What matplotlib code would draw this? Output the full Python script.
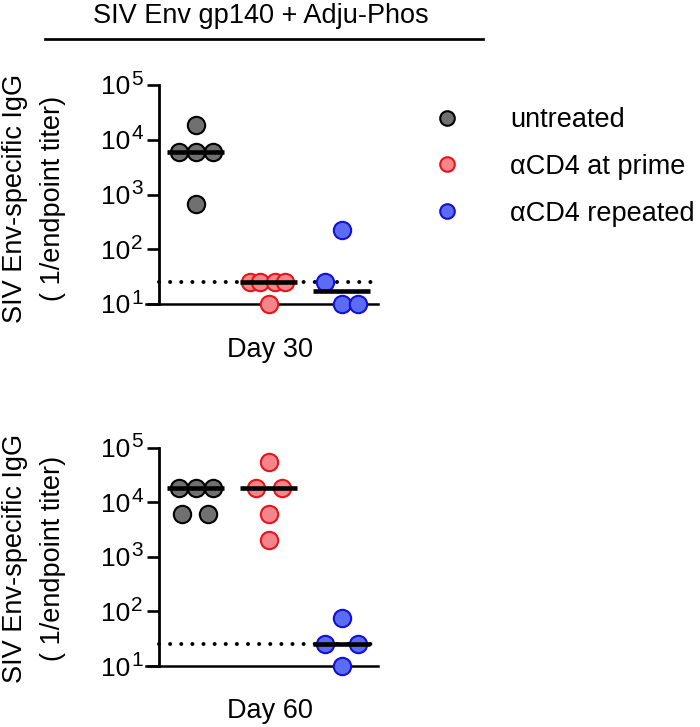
import matplotlib
matplotlib.use('Agg')
import matplotlib.pyplot as plt
from matplotlib.lines import Line2D
import numpy as np

# Datos (títulos 1/endpoint, diluciones 1:25 x3; 10 = debajo del límite)
groups = ['untreated', 'αCD4 at prime', 'αCD4 repeated']
day30 = [
    [18225, 6075, 6075, 6075, 675],
    [25, 25, 25, 25, 10],
    [225, 25, 10, 10],
]
day60 = [
    [18225, 18225, 18225, 6075, 6075],
    [54675, 18225, 18225, 6075, 2025],
    [75, 25, 25, 10],
]
panel_labels = ['Day 30', 'Day 60']
detection_limit = 25
ytick_exps = [1, 2, 3, 4, 5]

# Desplazamiento horizontal de cada punto (en "ranuras" de marcador)
slots30 = [
    [0, -1, 0, 1, 0],
    [-1.1, -0.5, 0.4, 1.0, 0],
    [0, -1, 0, 1],
]
slots60 = [
    [-1, 0, 1, -0.8, 0.75],
    [0, -0.75, 0.78, 0, 0],
    [0, -1, 1, 0],
]
slot_w = 0.23

faces = ['#707070', '#f5858b', '#5c6cf2']
edges = ['#000000', '#e8141a', '#1010d8']

plt.rcParams['font.family'] = ['Liberation Sans', 'DejaVu Sans']
plt.rcParams['lines.scale_dashes'] = False

W, H = 700, 727
fig = plt.figure(figsize=(7, 7.27), dpi=100)
fs = 19.5


def fx(px):
    return px / W


def fy(py):
    return 1 - py / H


x_left = -0.685
ax_top = fig.add_axes([fx(146), fy(304), fx(378) - fx(146), fy(85) - fy(304)])
ax_bot = fig.add_axes([fx(146), fy(666), fx(378) - fx(146), fy(447.7) - fy(666)])

for ax, data, slots in [(ax_top, day30, slots30), (ax_bot, day60, slots60)]:
    ax.set_yscale('log')
    ax.set_ylim(10, 1e5)
    ax.set_xlim(x_left, 2.5)

    # límite de detección
    ax.plot([-0.5, 2.5], [detection_limit, detection_limit], color='black',
            lw=2.9, linestyle=(0, (0.01, 8.0)), dash_capstyle='round', zorder=2,
            clip_on=False)

    for i, vals in enumerate(data):
        xs = i + np.array(slots[i]) * slot_w
        ax.plot(xs, vals, 'o', ms=12.5, mfc=faces[i], mec=edges[i], mew=1.5,
                linestyle='none', zorder=3, clip_on=False)
        med = np.median(vals)
        ax.plot([i - 0.39, i + 0.39], [med, med], color='black', lw=3.3,
                solid_capstyle='butt', zorder=4)

    ax.spines['top'].set_visible(False)
    ax.spines['right'].set_visible(False)
    ax.spines['left'].set_position(('data', -0.5))
    ax.spines['left'].set_linewidth(2.0)
    ax.spines['bottom'].set_linewidth(1.8)
    ax.set_xticks([])
    yt = [10.0 ** k for k in ytick_exps]
    ax.set_yticks(yt)
    ax.set_yticklabels(['10'] * len(yt), fontsize=19)
    ax.yaxis.set_minor_locator(matplotlib.ticker.NullLocator())
    ax.tick_params(axis='y', direction='out', length=8.6, width=1.9, pad=12.2)
    # exponentes
    for k, v in zip(ytick_exps, yt):
        ax.annotate(str(k), xy=(-0.5, v), xycoords='data', xytext=(-20.2, 4.3),
                    textcoords='offset points', ha='left', va='center',
                    fontsize=15, annotation_clip=False)
    ax.patch.set_visible(False)

# etiquetas de panel
fig.text(fx(270), fy(356.5), panel_labels[0], ha='center', va='baseline', fontsize=fs)
fig.text(fx(270), fy(718.5), panel_labels[1], ha='center', va='baseline', fontsize=fs)

# etiquetas del eje y
ylab = 'SIV Env-specific IgG\n( 1/endpoint titer)'
fig.text(fx(34), fy(198), ylab, rotation=90, ha='center', va='center',
         multialignment='center', fontsize=fs, linespacing=1.55)
fig.text(fx(34), fy(558), ylab, rotation=90, ha='center', va='center',
         multialignment='center', fontsize=fs, linespacing=1.55)

# título y barra
fig.text(fx(260.5), fy(23.3), 'SIV Env gp140 + Adju-Phos', ha='center',
         va='baseline', fontsize=fs)
fig.add_artist(Line2D([fx(45), fx(483)], [fy(39.3), fy(39.3)], color='black',
                      lw=1.95, transform=fig.transFigure))

# leyenda
handles = [Line2D([], [], marker='o', ms=10.5, mfc=faces[i], mec=edges[i], mew=1.5,
                  linestyle='none') for i in range(3)]
ax_top.legend(handles, groups, loc='upper left', bbox_to_anchor=(fx(433.2), fy(107)),
              bbox_transform=fig.transFigure, frameon=False, fontsize=fs,
              borderpad=0, borderaxespad=0, handlelength=1.0, handletextpad=1.84,
              labelspacing=0.77)

fig.savefig('out.png', dpi=100)
